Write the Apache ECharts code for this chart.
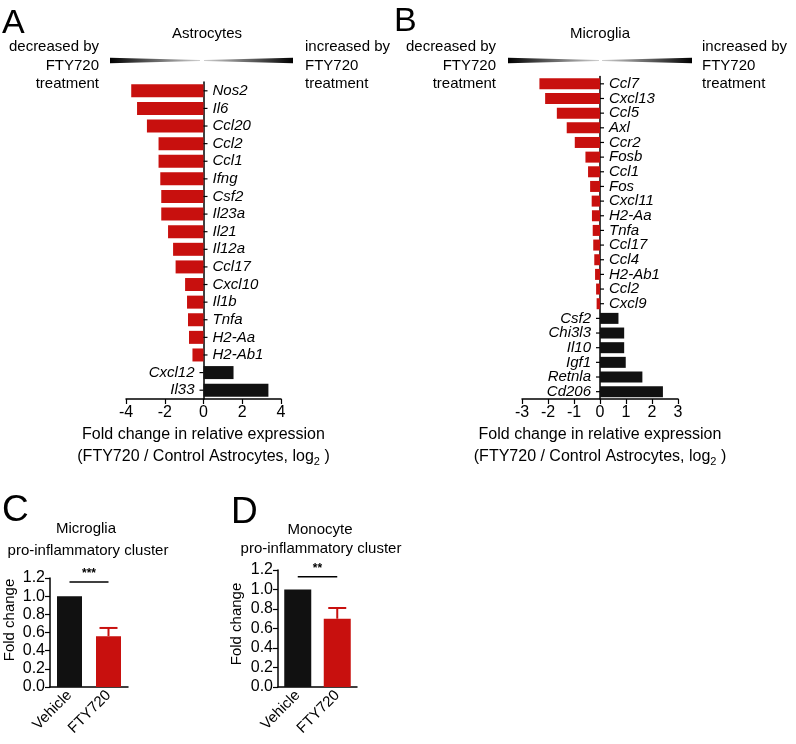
<!DOCTYPE html>
<html><head><meta charset="utf-8">
<script src="https://cdn.jsdelivr.net/npm/echarts@6/dist/echarts.min.js"></script>
<style>html,body{margin:0;padding:0;background:#fff}#c{width:796px;height:744px}</style>
</head><body><div id="c"></div>
<script>
// Panel A: Astrocytes
const astroGenes = ['Nos2','Il6','Ccl20','Ccl2','Ccl1','Ifng','Csf2','Il23a','Il21','Il12a','Ccl17','Cxcl10','Il1b','Tnfa','H2-Aa','H2-Ab1','Cxcl12','Il33'];
const astroValues = [-3.73,-3.43,-2.92,-2.32,-2.32,-2.23,-2.18,-2.18,-1.83,-1.57,-1.44,-0.95,-0.85,-0.80,-0.75,-0.57,1.55,3.35];
const astroTicks = [-4,-2,0,2,4];
// Panel B: Microglia
const microGenes = ['Ccl7','Cxcl13','Ccl5','Axl','Ccr2','Fosb','Ccl1','Fos','Cxcl11','H2-Aa','Tnfa','Ccl17','Ccl4','H2-Ab1','Ccl2','Cxcl9','Csf2','Chi3l3','Il10','Igf1','Retnla','Cd206'];
const microValues = [-2.33,-2.11,-1.66,-1.28,-0.97,-0.56,-0.46,-0.38,-0.32,-0.31,-0.28,-0.26,-0.22,-0.19,-0.15,-0.13,0.71,0.93,0.93,0.99,1.63,2.42];
const microTicks = [-3,-2,-1,0,1,2,3];
// Panels C & D
const groups = ['Vehicle','FTY720'];
const cValues = [1.0, 0.56];
const cErrors = [0, 0.09];
const cSig = '***';
const dValues = [1.0, 0.70];
const dErrors = [0, 0.11];
const dSig = '**';

const RED = '#c8100e', BLACK = '#111111';
const FONT = '"Liberation Sans", Arial, Helvetica, sans-serif';
const chart = echarts.init(document.getElementById('c'), null, {renderer:'canvas'});

function barData(vals){
  return vals.map(v => ({value:v, itemStyle:{color: v<0?RED:BLACK},
    label:{position: v<0?'right':'left'}}));
}
function geneAxis(genes, gridIndex){
  return {
    type:'category', gridIndex, data:genes, inverse:true,
    axisLine:{onZero:true, lineStyle:{color:'#000', width:1.5}},
    axisTick:{show:false}, axisLabel:{show:false}, splitLine:{show:false}
  };
}
function geneBars(xi, yi, vals, bw){
  return {type:'bar', xAxisIndex:xi, yAxisIndex:yi, data:barData(vals), barWidth:bw,
    label:{show:true, formatter:'{b}', distance:9, fontStyle:'italic', fontSize:15, color:'#000', fontFamily:FONT}};
}
function geneTicks(xi, yi, vals){
  return {
    type:'custom', xAxisIndex:xi, yAxisIndex:yi, z:5, silent:true,
    data: vals.map((v,i)=>[0, i, v<0?1:-1]),
    renderItem:(params, api)=>{
      const p = api.coord([api.value(0), api.value(1)]);
      const d = api.value(2);
      return {type:'line', shape:{x1:p[0], y1:p[1], x2:p[0]+d*4, y2:p[1]}, style:{stroke:'#000', lineWidth:1.2}};
    }
  };
}
function valueX(gridIndex, ticks){
  return {
    type:'value', gridIndex, min:ticks[0], max:ticks[ticks.length-1], interval:ticks[1]-ticks[0],
    axisLine:{show:true, onZero:false, lineStyle:{color:'#000', width:1.5}},
    axisTick:{show:true, length:5, lineStyle:{color:'#000', width:1.2}},
    axisLabel:{fontSize:16, color:'#000', fontFamily:FONT, margin:6},
    splitLine:{show:false},
    name:'Fold change in relative expression\n(FTY720 / Control Astrocytes, log{sub|2} )',
    nameLocation:'middle', nameGap:25,
    nameTextStyle:{fontSize:16, color:'#000', fontFamily:FONT, lineHeight:22,
      rich:{sub:{fontSize:11, color:'#000', fontFamily:FONT, padding:[10,0,0,0]}}}
  };
}
function catX(gridIndex){
  return {
    type:'category', gridIndex, data:groups,
    axisLine:{lineStyle:{color:'#000', width:1.5}},
    axisTick:{alignWithLabel:true, length:5, lineStyle:{color:'#000', width:1.2}},
    axisLabel:{rotate:45, fontSize:15, color:'#000', fontFamily:FONT, margin:6, interval:0}
  };
}
function valueY(gridIndex){
  return {
    type:'value', gridIndex, min:0, max:1.2, interval:0.2,
    axisLine:{show:true, lineStyle:{color:'#000', width:1.5}},
    axisTick:{show:true, length:5, lineStyle:{color:'#000', width:1.2}},
    axisLabel:{fontSize:16, color:'#000', fontFamily:FONT, margin:5, formatter:v=>v.toFixed(1)},
    splitLine:{show:false}
  };
}
function errSeries(xi, yi, vals, errs){
  return {
    type:'custom', xAxisIndex:xi, yAxisIndex:yi, z:1,
    data: vals.map((v,i)=>[i, v, errs[i]]),
    renderItem:(params, api)=>{
      const e = api.value(2); if(!e) return null;
      const x = api.value(0), y = api.value(1);
      const p1 = api.coord([x, y]), p2 = api.coord([x, y+e]);
      return {type:'group', children:[
        {type:'line', shape:{x1:p1[0], y1:p1[1], x2:p2[0], y2:p2[1]}, style:{stroke:RED, lineWidth:2}},
        {type:'line', shape:{x1:p2[0]-9, y1:p2[1], x2:p2[0]+9, y2:p2[1]}, style:{stroke:RED, lineWidth:2}}
      ]};
    }
  };
}
function sigSeries(xi, yi, level, stars){
  return {
    type:'custom', xAxisIndex:xi, yAxisIndex:yi,
    data:[[0, 1, level]],
    renderItem:(params, api)=>{
      const a = api.coord([api.value(0), api.value(2)]);
      const b = api.coord([api.value(1), api.value(2)]);
      return {type:'group', children:[
        {type:'line', shape:{x1:a[0], y1:a[1], x2:b[0], y2:b[1]}, style:{stroke:'#000', lineWidth:1.5}},
        {type:'text', style:{text:stars, x:(a[0]+b[0])/2, y:a[1]-2, align:'center', verticalAlign:'bottom',
          font:'bold 12px '+FONT, fill:'#000'}}
      ]};
    }
  };
}
function txt(x, y, s, size, align, rot){
  return {type:'text', x, y, rotation:rot||0, style:{text:s, font:size+'px '+FONT, fill:'#000', align:align||'left', verticalAlign:'middle'}};
}
function wedge(x1, x2, yc){
  return {type:'polygon', shape:{points:[[x1,yc-2.8],[x2,yc-0.5],[x2,yc+0.5],[x1,yc+2.8]]},
    style:{fill:new echarts.graphic.LinearGradient(x1<x2?0:1,0,x1<x2?1:0,0,[{offset:0,color:'#000'},{offset:1,color:'#cfcfcf'}])}};
}

const graphics = [
  txt(2, 24, 'A', 34), txt(394, 22, 'B', 34), txt(2, 511, 'C', 37), txt(231, 513, 'D', 37),
  txt(207, 34, 'Astrocytes', 15, 'center'),
  txt(99, 47, 'decreased by', 15, 'right'), txt(99, 66, 'FTY720', 15, 'right'), txt(99, 84, 'treatment', 15, 'right'),
  txt(305, 47, 'increased by', 15), txt(305, 66, 'FTY720', 15), txt(305, 84, 'treatment', 15),
  wedge(110, 200, 60.5), wedge(293, 204, 60.5),
  txt(600, 34, 'Microglia', 15, 'center'),
  txt(496, 47, 'decreased by', 15, 'right'), txt(496, 66, 'FTY720', 15, 'right'), txt(496, 84, 'treatment', 15, 'right'),
  txt(702, 47, 'increased by', 15), txt(702, 66, 'FTY720', 15), txt(702, 84, 'treatment', 15),
  wedge(508, 599, 60.5), wedge(692, 602, 60.5),
  txt(86, 529, 'Microglia', 15, 'center'), txt(88, 551, 'pro-inflammatory cluster', 15, 'center'),
  txt(320, 530, 'Monocyte', 15, 'center'), txt(321, 549, 'pro-inflammatory cluster', 15, 'center'),
  txt(10, 620, 'Fold change', 15, 'center', Math.PI/2),
  txt(237, 624, 'Fold change', 15, 'center', Math.PI/2)
];

chart.setOption({
  animation:false,
  backgroundColor:'#fff',
  textStyle:{fontFamily:FONT},
  grid:[
    {left:126, top:82, width:155, height:317},
    {left:522, top:76.5, width:156, height:322.5},
    {left:50, top:578, width:78, height:109},
    {left:278, top:570, width:79, height:117}
  ],
  xAxis:[ valueX(0, astroTicks), valueX(1, microTicks), catX(2), catX(3) ],
  yAxis:[ geneAxis(astroGenes, 0), geneAxis(microGenes, 1), valueY(2), valueY(3) ],
  series:[
    geneBars(0, 0, astroValues, 13),
    geneBars(1, 1, microValues, 11),
    geneTicks(0, 0, astroValues),
    geneTicks(1, 1, microValues),
    {type:'bar', xAxisIndex:2, yAxisIndex:2, data:cValues.map((v,i)=>({value:v, itemStyle:{color:i?RED:BLACK}})), barWidth:25, z:2},
    {type:'bar', xAxisIndex:3, yAxisIndex:3, data:dValues.map((v,i)=>({value:v, itemStyle:{color:i?RED:BLACK}})), barWidth:27, z:2},
    errSeries(2, 2, cValues, cErrors), errSeries(3, 3, dValues, dErrors),
    sigSeries(2, 2, 1.155, cSig), sigSeries(3, 3, 1.13, dSig)
  ],
  graphic:graphics
});
</script></body></html>
